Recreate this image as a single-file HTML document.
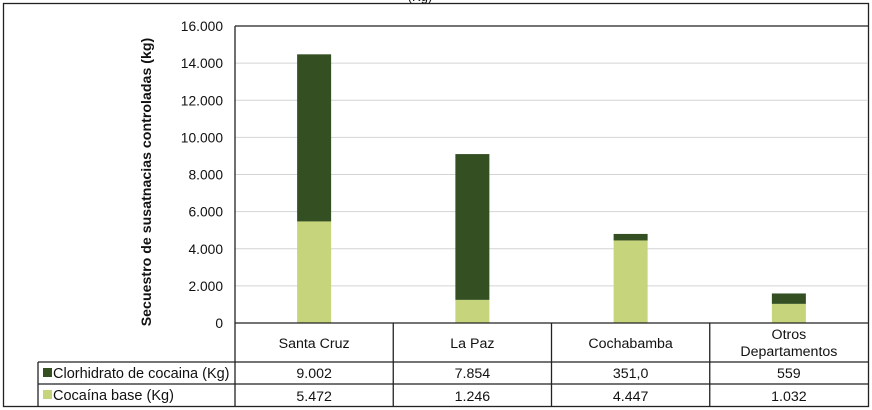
<!DOCTYPE html>
<html><head><meta charset="utf-8"><style>
body{margin:0;background:#fff;}
svg{display:block;font-family:"Liberation Sans",sans-serif;}
</style></head><body>
<svg width="872" height="410" viewBox="0 0 872 410">
<g id="chart"></g>
</svg>
<script>
const categories=[["Santa Cruz"],["La Paz"],["Cochabamba"],["Otros","Departamentos"]];
const clorhidrato=[9002,7854,351,559];
const base=[5472,1246,4447,1032];
const clorLabels=["9.002","7.854","351,0","559"];
const baseLabels=["5.472","1.246","4.447","1.032"];
const yTicks=[0,2000,4000,6000,8000,10000,12000,14000,16000];
const yTickLabels=["0","2.000","4.000","6.000","8.000","10.000","12.000","14.000","16.000"];

const NS="http://www.w3.org/2000/svg";
const g=document.getElementById('chart');
const L=235,R=868,T=26,B=323,yMax=16000;
const cw=(R-L)/categories.length, bw=34;
const y=v=>B-(v/yMax)*(B-T);
const xc=i=>L+cw*(i+0.5);
function mk(tag,attrs,parent){const e=document.createElementNS(NS,tag);for(const k in attrs)e.setAttribute(k,attrs[k]);(parent||g).appendChild(e);return e;}
function txt(s,x,yy,attrs){const e=mk('text',Object.assign({x:x,y:yy,'font-size':14.2,fill:'#111'},attrs||{}));e.textContent=s;return e;}

let e=mk('rect',{x:3.5,y:3.5,width:865,height:403,fill:'none',stroke:'#222','stroke-width':1.3});

e=txt('(Kg)',420,1,{'font-size':13,'text-anchor':'middle'});


yTicks.forEach((t,i)=>{
  if(t>0&&t<yMax){const l=mk('line',{x1:L,x2:R,y1:y(t),y2:y(t),stroke:'#d4d4d4','stroke-width':1});
  }
  const tl=txt(yTickLabels[i],223,y(t)+5,{'text-anchor':'end','font-size':13.8});
  
});
e=txt('Secuestro de susatnacias controladas (kg)',0,0,{'font-weight':'bold','text-anchor':'middle','font-size':14.2,transform:'translate(151,182) rotate(-90)'});


categories.forEach((c,i)=>{
  const b=mk('rect',{x:xc(i)-bw/2,y:y(base[i]),width:bw,height:B-y(base[i]),fill:'#c6d47b'});
  
  const top=base[i]+clorhidrato[i];
  const d=mk('rect',{x:xc(i)-bw/2,y:y(top),width:bw,height:y(base[i])-y(top),fill:'#344f22'});
  
});

mk('line',{x1:L,x2:R,y1:T,y2:T,stroke:'#222','stroke-width':1.3});
mk('line',{x1:L,x2:L,y1:T,y2:407,stroke:'#222','stroke-width':1.3});
const r1=362,r2=384,r3=407;
mk('line',{x1:L,x2:R,y1:B,y2:B,stroke:'#222','stroke-width':1.3});
mk('line',{x1:38,x2:R,y1:r1,y2:r1,stroke:'#222','stroke-width':1.3});
mk('line',{x1:38,x2:R,y1:r2,y2:r2,stroke:'#222','stroke-width':1.3});
mk('line',{x1:38,x2:38,y1:r1,y2:r3,stroke:'#222','stroke-width':1.3});
for(let i=1;i<categories.length;i++)mk('line',{x1:L+cw*i,x2:L+cw*i,y1:B,y2:r3,stroke:'#222','stroke-width':1.3});
categories.forEach((c,i)=>{
  if(c.length===1){e=txt(c[0],xc(i),348,{'text-anchor':'middle'});}
  else{e=txt(c[0],xc(i),339,{'text-anchor':'middle'});const e2=txt(c[1],xc(i),356,{'text-anchor':'middle'});
    }
  
  e=txt(clorLabels[i],xc(i),378,{'text-anchor':'middle'});
  
  e=txt(baseLabels[i],xc(i),401,{'text-anchor':'middle'});
  
});
e=mk('rect',{x:43,y:368,width:9,height:9,fill:'#344f22'});

e=txt('Clorhidrato de cocaina  (Kg)',53,378,{'font-size':14.5});

e=mk('rect',{x:43,y:390,width:9,height:9,fill:'#c6d47b'});

e=txt('Cocaína base (Kg)',53,400,{'font-size':14.5});

</script>
</body></html>
